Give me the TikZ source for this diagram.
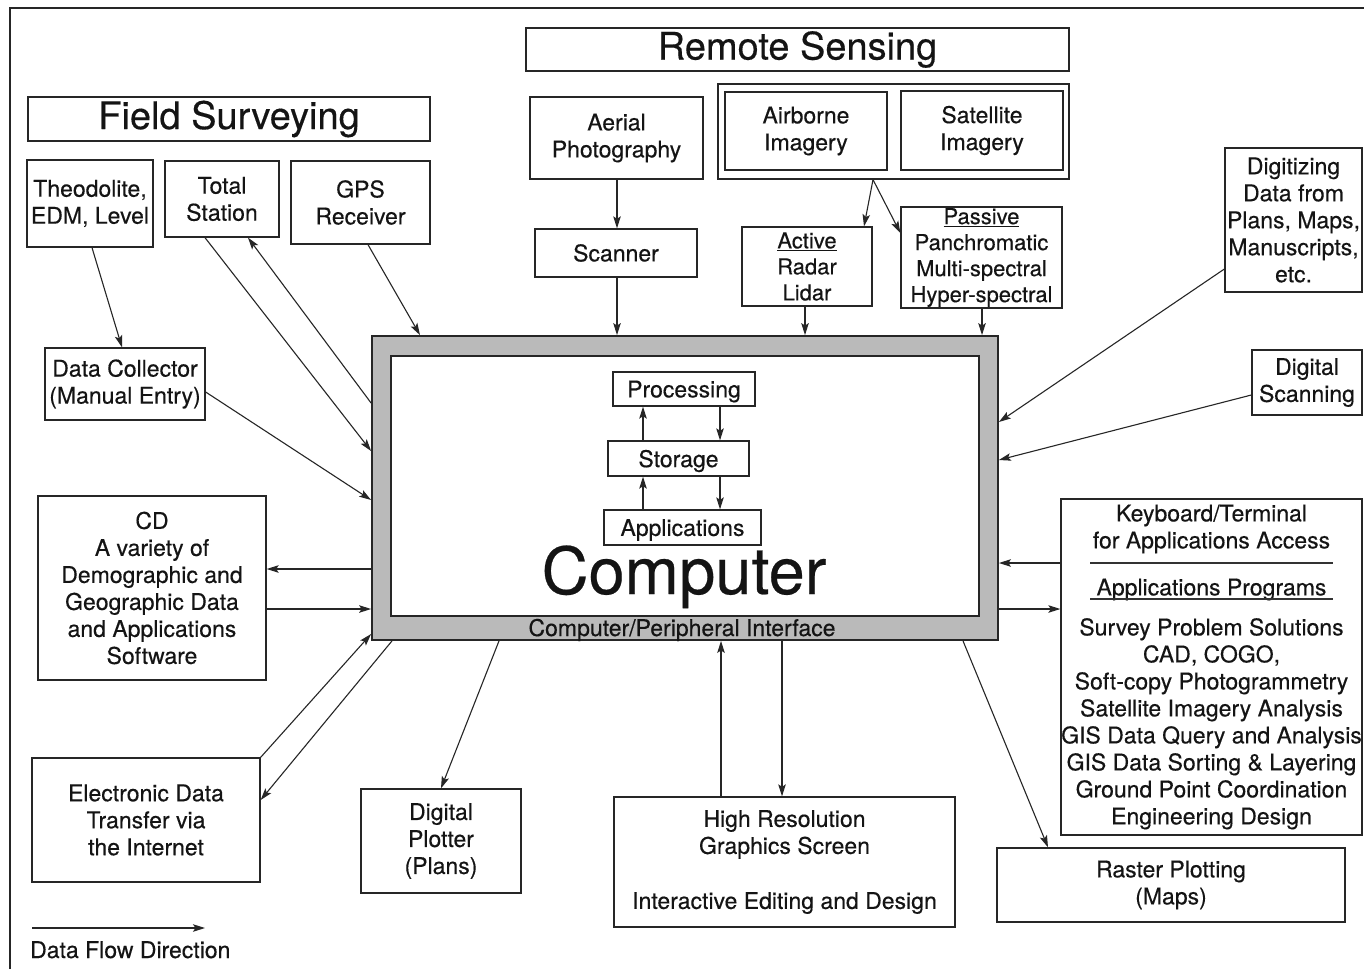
\documentclass[tikz,border=0pt]{standalone}
\usepackage{fontspec}
\setmainfont{TeX Gyre Heros}[FakeBold=0.35]
\usetikzlibrary{arrows.meta}
\begin{document}
\begin{tikzpicture}[x=1pt,y=-1pt,
  box/.style={draw=black!85, line width=1.3pt, fill=white, inner sep=0pt, align=center,
    text=black!92, font=\fontsize{23}{27}\selectfont},
  smallbox/.style={box, font=\fontsize{22}{26}\selectfont},
  titlebox/.style={box, font=\fontsize{38}{40}\selectfont},
  wh/.style 2 args={minimum width=#1pt, minimum height=#2pt},
  flow/.style={line width=1.1pt, draw=black!85, -{Stealth[length=12pt,width=7.5pt,inset=2.5pt]}},
  plain/.style={text=black!92, inner sep=0pt, font=\fontsize{23}{27}\selectfont},
]
\useasboundingbox[fill=white] (0,0) rectangle (1364,969);
% frame
\draw[line width=2.8pt, black!85] (10,969) -- (10,8) -- (1364,8);

% Field surveying
\node[titlebox, wh={402}{44}] (fs) at (229,119) {Field Surveying};
\node[box, wh={126}{87}] (theo) at (90,203.5) {Theodolite,\\EDM, Level};
\node[box, wh={114}{76}] (ts) at (222,199) {Total\\Station};
\node[box, wh={139}{83}] (gps) at (360.5,202.5) {GPS\\Receiver};
\node[box, wh={160}{72}] (dc) at (125,384) {Data Collector\\(Manual Entry)};

% Remote sensing
\node[titlebox, wh={543}{43}] (rs) at (797.5,49.5) {Remote Sensing};
\node[box, wh={173}{82}] (aer) at (616.5,138) {Aerial\\Photography};
\node[box, wh={162}{48}] (scan) at (616,253) {Scanner};
\node[box, wh={351}{95}] (img) at (893.5,131.5) {};
\node[box, wh={162}{78}] (air) at (806,131) {Airborne\\Imagery};
\node[box, wh={162}{79}] (sat) at (982,130.5) {Satellite\\Imagery};
\node[smallbox, wh={130}{79}] (act) at (807,266.5) {\underline{Active}\\Radar\\Lidar};
\node[smallbox, wh={161}{101}] (pas) at (981.5,257.5) {\underline{Passive}\\Panchromatic\\Multi-spectral\\Hyper-spectral};

% right side
\node[box, wh={137}{144}] (dig) at (1293.5,220) {Digitizing\\Data from\\Plans, Maps,\\Manuscripts,\\etc.};
\node[box, wh={110}{65}] (dscan) at (1307,382.5) {Digital\\Scanning};
\node[box, wh={301}{336}] (kb) at (1211.5,667) {Keyboard/Terminal\\for Applications Access\\[20pt]Applications Programs\\[13pt]Survey Problem Solutions\\CAD, COGO,\\Soft-copy Photogrammetry\\Satellite Imagery Analysis\\GIS Data Query and Analysis\\GIS Data Sorting \& Layering\\Ground Point Coordination\\Engineering Design};
\draw[line width=1.1pt, black!80] (1090,563) -- (1333,563);
\draw[line width=1.1pt, black!80] (1090,599) -- (1333,599);
\node[box, wh={348}{74}] (rast) at (1171,885) {Raster Plotting\\(Maps)};

% bottom
\node[box, wh={341}{130}] (hr) at (784.5,862) {High Resolution\\Graphics Screen\\[28pt]Interactive Editing and Design};
\node[box, wh={160}{104}] (dp) at (441,841) {Digital\\Plotter\\(Plans)};
\node[box, wh={228}{184}] (cd) at (152,588) {CD\\A variety of\\Demographic and\\Geographic Data\\and Applications\\Software};
\node[box, wh={228}{124}] (edt) at (146,820) {Electronic Data\\Transfer via\\the Internet};

% computer
\node[draw=black!85, line width=1.8pt, fill=black!27, wh={626}{304}, inner sep=0pt] (comp) at (685,488) {};
\node[draw=black!85, line width=1.5pt, fill=white, wh={588}{260}, inner sep=0pt] (compin) at (685,486) {};
\node[box, wh={142}{34}, text depth=0pt] (proc) at (684,389) {Processing};
\node[box, wh={141}{35}, text depth=0pt] (stor) at (678.5,458.5) {Storage};
\node[box, wh={157}{35}, text depth=0pt] (appl) at (682.5,527.5) {Applications};
\node[plain, anchor=base, font=\fontsize{65}{65}\selectfont] (comptxt) at (684,594) {Computer};
\node[plain, anchor=base] (cpi) at (682,636) {Computer/Peripheral Interface};

% inner flows
\draw[flow] (stor.north -| 643,0) -- (proc.south -| 643,0);
\draw[flow] (proc.south -| 720,0) -- (stor.north -| 720,0);
\draw[flow] (appl.north -| 643,0) -- (stor.south -| 643,0);
\draw[flow] (stor.south -| 720,0) -- (appl.north -| 720,0);

% field surveying flows
\draw[flow] (theo.south -| 92,0) -- (dc.north -| 122,0);
\draw[flow] (ts.south -| 205,0) -- (comp.west |- 0,451);
\draw[flow] (comp.west |- 0,403) -- (ts.south -| 248,0);
\draw[flow] (gps.south -| 368,0) -- (comp.north -| 420,0);
\draw[flow] (dc.east |- 0,392) -- (comp.west |- 0,500);

% remote sensing flows
\draw[flow] (aer.south -| 617,0) -- (scan.north -| 617,0);
\draw[flow] (scan.south -| 617,0) -- (comp.north -| 617,0);
\coordinate (split) at (img.south -| 873,0);
\draw[flow] (split) -- (act.north -| 864,0);
\draw[flow] (split) -- (pas.west |- 0,233);
\draw[flow] (act.south -| 805,0) -- (comp.north -| 805,0);
\draw[flow] (pas.south -| 982,0) -- (comp.north -| 982,0);

% right flows
\draw[flow] (dig.west |- 0,269) -- (comp.east |- 0,422);
\draw[flow] (dscan.west |- 0,395) -- (comp.east |- 0,460);
\draw[flow] (kb.west |- 0,563) -- (comp.east |- 0,563);
\draw[flow] (comp.east |- 0,609) -- (kb.west |- 0,609);
\draw[flow] (comp.south -| 963,0) -- (rast.north -| 1048,0);

% bottom flows
\draw[flow] (hr.north -| 721,0) -- (comp.south -| 721,0);
\draw[flow] (comp.south -| 782,0) -- (hr.north -| 782,0);
\draw[flow] (comp.south -| 499,0) -- (dp.north -| 441,0);

% left flows
\draw[flow] (comp.west |- 0,569) -- (cd.east |- 0,569);
\draw[flow] (cd.east |- 0,609) -- (comp.west |- 0,609);
\draw[flow] (edt.north east) -- (comp.west |- 0,634);
\draw[flow] (comp.south -| 392,0) -- (edt.east |- 0,800);

% legend
\coordinate (leg1) at (32,928);
\coordinate (leg2) at (205,928);
\draw[flow] (leg1) -- (leg2);
\node[plain, anchor=base west] (legtxt) at (30,958) {Data Flow Direction};
\end{tikzpicture}
\end{document}
